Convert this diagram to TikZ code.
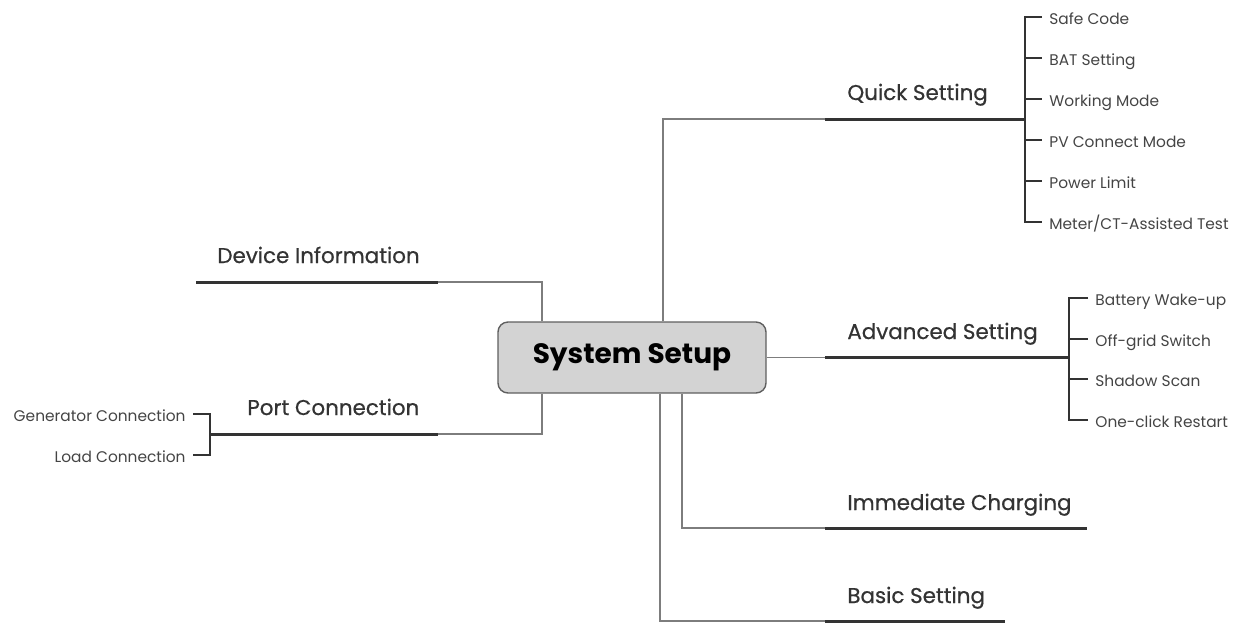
\documentclass[tikz,border=0pt]{standalone}
\usepackage{fontspec}
\setmainfont{Poppins}
\newfontfamily\medfont{Poppins}[FakeBold=0.6]
\usetikzlibrary{positioning, calc}
\definecolor{textgray}{RGB}{51, 51, 51}
\definecolor{leafgray}{RGB}{68, 68, 68}
\definecolor{linegray}{RGB}{125, 125, 125}
\definecolor{boxgray}{RGB}{211, 211, 211}
\definecolor{boxedge}{RGB}{95, 95, 95}

\begin{document}
\begin{tikzpicture}[
    x=0.5pt, y=-0.5pt,
    root/.style={draw=boxedge, line width=0.7pt, fill=boxgray, rounded corners=5pt, minimum width=134pt, minimum height=35.5pt, font=\bfseries\fontsize{14}{16}\selectfont, text=black},
    branch/.style={anchor=base west, inner sep=0pt, font=\medfont\fontsize{10.7}{12}\selectfont, text=textgray},
    leaf/.style={inner xsep=3.5pt, inner ysep=0pt, text height=1.4ex, text depth=0pt, font=\fontsize{7.7}{9}\selectfont, text=leafgray},
    conn/.style={draw=linegray, line width=0.6pt},
    underline/.style={draw=textgray, line width=1.5pt},
    bracket/.style={draw=textgray, line width=1.2pt, line join=miter}
]
\useasboundingbox (0,0) rectangle (1244,623);

% Root
\node[root] (sys) at (632,357.5) {System Setup};

% Quick Setting
\coordinate (qs-a) at (825,119);
\coordinate (qs-b) at (1025,119);
\node[branch] (qs) at (847,100) {Quick Setting};
\draw[conn] ($(sys.north)+(31,0)$) |- (qs-a);
\draw[underline] (qs-a) -- (qs-b);
\node[leaf, anchor=west] (qs1) at (1042,17) {Safe Code};
\node[leaf, anchor=west] (qs2) at (1042,58) {BAT Setting};
\node[leaf, anchor=west] (qs3) at (1042,99) {Working Mode};
\node[leaf, anchor=west] (qs4) at (1042,140) {PV Connect Mode};
\node[leaf, anchor=west] (qs5) at (1042,181) {Power Limit};
\node[leaf, anchor=west] (qs6) at (1042,222) {Meter/CT-Assisted Test};
\draw[bracket] (qs1.west) -| (qs-b) |- (qs6.west);
\draw[bracket] (qs-b |- qs2.west) -- (qs2.west);
\draw[bracket] (qs-b |- qs3.west) -- (qs3.west);
\draw[bracket] (qs-b |- qs4.west) -- (qs4.west);
\draw[bracket] (qs-b |- qs5.west) -- (qs5.west);

% Advanced Setting
\coordinate (ad-a) at (825,357.5);
\coordinate (ad-b) at (1069,357.5);
\node[branch] (ad) at (847,339) {Advanced Setting};
\draw[conn] (sys.east) -- (ad-a);
\draw[underline] (ad-a) -- (ad-b);
\node[leaf, anchor=west] (ad1) at (1088,298) {Battery Wake-up};
\node[leaf, anchor=west] (ad2) at (1088,339) {Off-grid Switch};
\node[leaf, anchor=west] (ad3) at (1088,379) {Shadow Scan};
\node[leaf, anchor=west] (ad4) at (1088,420) {One-click Restart};
\draw[bracket] (ad1.west) -| (ad-b) |- (ad4.west);
\draw[bracket] (ad-b |- ad2.west) -- (ad2.west);
\draw[bracket] (ad-b |- ad3.west) -- (ad3.west);

% Immediate Charging
\coordinate (im-a) at (825,528);
\coordinate (im-b) at (1087,528);
\node[branch] (im) at (847,510) {Immediate Charging};
\draw[conn] ($(sys.south)+(50,0)$) |- (im-a);
\draw[underline] (im-a) -- (im-b);

% Basic Setting
\coordinate (bs-a) at (825,621);
\coordinate (bs-b) at (1005,621);
\node[branch] (bs) at (847,603) {Basic Setting};
\draw[conn] ($(sys.south)+(28,0)$) |- (bs-a);
\draw[underline] (bs-a) -- (bs-b);

% Device Information
\coordinate (dv-a) at (438,282);
\coordinate (dv-b) at (196,282);
\node[branch] (dv) at (217,263) {Device Information};
\draw[conn] ($(sys.north)+(-90,0)$) |- (dv-a);
\draw[underline] (dv-a) -- (dv-b);

% Port Connection
\coordinate (pt-a) at (438,434);
\coordinate (pt-b) at (210,434);
\node[branch] (pt) at (247,415) {Port Connection};
\draw[conn] ($(sys.south)+(-90,0)$) |- (pt-a);
\draw[underline] (pt-a) -- (pt-b);
\node[leaf, anchor=east] (pt1) at (193,414) {Generator Connection};
\node[leaf, anchor=east] (pt2) at (193,455) {Load Connection};
\draw[bracket] (pt1.east) -| (pt-b) |- (pt2.east);

\end{tikzpicture}
\end{document}
